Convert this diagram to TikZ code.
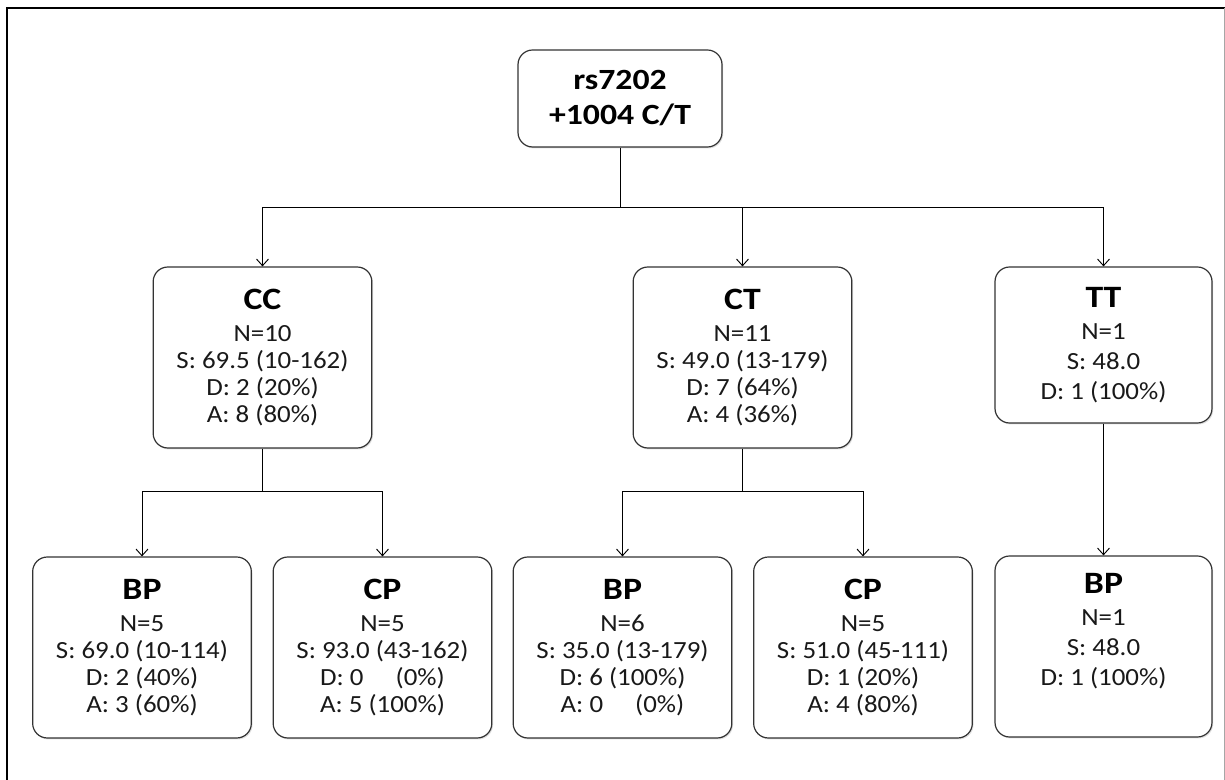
\documentclass[tikz,border=0pt]{standalone}
\usepackage{fontspec}
\setmainfont{Carlito}[FakeStretch=1.09]
\newfontfamily\headfont{Carlito}[FakeStretch=1.15]
\usetikzlibrary{arrows.meta,shadows}

\newcommand{\gtitle}[1]{{\headfont\fontsize{23.3}{24}\selectfont\bfseries\color{black} #1}}

\begin{document}
\begin{tikzpicture}[x=0.75pt,y=-0.75pt]
    \useasboundingbox (0,0) rectangle (1225,780);
    \draw[line width=1.6pt] (7,780) -- (7,8) -- (1225,8);
    \draw[black!35, line width=0.6pt] (1224,8) -- (1224,780);
    \begin{scope}[every node/.style={draw=black!80, line width=0.9pt, rounded corners=11pt,
            fill=white, drop shadow={opacity=0.25, shadow xshift=0.9pt, shadow yshift=-1.1pt},
            align=center, text=black!90, inner sep=0pt,
            font=\fontsize{18.5}{20.25}\selectfont,
            minimum width=164pt, minimum height=135.75pt}]
        \node (root) at (620,98.5) [minimum width=153pt, minimum height=72.75pt, text=black,
            font=\headfont\fontsize{22}{26.25}\selectfont\bfseries] {rs7202\\+1004 C/T};
        \node (cc) at (262.5,357.5) {\gtitle{CC}\\[4pt]N=10\\S: 69.5 (10-162)\\D: 2 (20\%)\\A: 8 (80\%)};
        \node (ct) at (742.5,357.5) {\gtitle{CT}\\[4pt]N=11\\S: 49.0 (13-179)\\D: 7 (64\%)\\A: 4 (36\%)};
        \node (tt) at (1103.5,345) [minimum width=162.75pt, minimum height=117pt]
            {\gtitle{TT}\\[4pt]N=1\\[2.25pt]S: 48.0\\[2.25pt]D: 1 (100\%)};
        \node (bp1) at (142,647.5) {\gtitle{BP}\\[4pt]N=5\\S: 69.0 (10-114)\\D: 2 (40\%)\\A: 3 (60\%)};
        \node (cp1) at (382.5,647.5) {\gtitle{CP}\\[4pt]N=5\\S: 93.0 (43-162)\\D: 0\hspace{1.3em}(0\%)\\A: 5 (100\%)};
        \node (bp2) at (622.5,647.5) {\gtitle{BP}\\[4pt]N=6\\S: 35.0 (13-179)\\D: 6 (100\%)\\A: 0\hspace{1.3em}(0\%)};
        \node (cp2) at (863,647.5) {\gtitle{CP}\\[4pt]N=5\\S: 51.0 (45-111)\\D: 1 (20\%)\\A: 4 (80\%)};
        \node (bp3) at (1103.5,646.5) [minimum width=162.75pt]
            {\gtitle{BP}\\[4pt]N=1\\[2.25pt]S: 48.0\\[2.25pt]D: 1 (100\%)\\[5pt]};
    \end{scope}
    \coordinate (rootfork) at (620,207);
    \coordinate (ccfork) at (262.5,491);
    \coordinate (ctfork) at (742.5,491);
    \begin{scope}[line width=0.7pt, >={Straight Barb[length=5pt,width=9pt]}]
        \draw (root) -- (rootfork);
        \draw[->] (rootfork) -| (cc.north);
        \draw[->] (rootfork) -| (ct.north);
        \draw[->] (rootfork) -| (tt.north);
        \draw (cc) -- (ccfork);
        \draw[->] (ccfork) -| (bp1.north);
        \draw[->] (ccfork) -| (cp1.north);
        \draw (ct) -- (ctfork);
        \draw[->] (ctfork) -| (bp2.north);
        \draw[->] (ctfork) -| (cp2.north);
        \draw[->] (tt) -- (bp3);
    \end{scope}
\end{tikzpicture}
\end{document}
